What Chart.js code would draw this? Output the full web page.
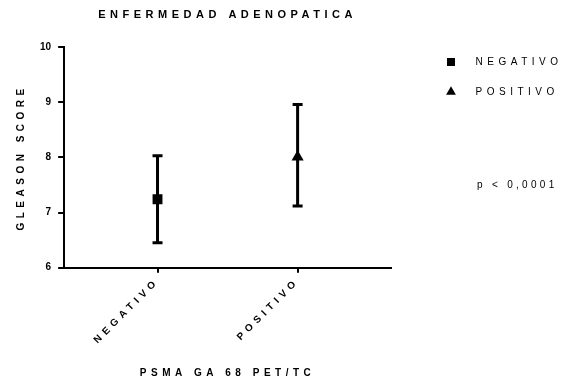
<!DOCTYPE html>
<html>
<head>
<meta charset="utf-8">
<script src="https://cdn.jsdelivr.net/npm/chart.js@4/dist/chart.umd.min.js"></script>
<style>
  html, body { margin: 0; padding: 0; background: #fff; }
</style>
</head>
<body>
<canvas id="chart" width="563" height="381"></canvas>
<script>
// values
const categories = ['NEGATIVO', 'POSITIVO'];
const means = [7.24, 8.01];
const lower = [6.45, 7.12];
const upper = [8.03, 8.96];
const markers = ['rect', 'triangle'];
const yTicks = [6, 7, 8, 9, 10];
const pText = 'p < 0,0001';

Chart.defaults.font.family = '"Liberation Sans", Arial, sans-serif';
Chart.defaults.color = '#000';

// the original uses wide letter spacing on words, none on the numbers
const canvas = document.getElementById('chart');
const ctx = canvas.getContext('2d');
const spaceFor = t => {
  if (t === pText) return '3.3px';
  return /^[\d.]+$/.test(String(t)) ? '0px' : '4.5px';
};
const fill = ctx.fillText;
const measure = ctx.measureText;
ctx.fillText = function (t, ...rest) { this.letterSpacing = spaceFor(t); return fill.call(this, t, ...rest); };
ctx.measureText = function (t) { this.letterSpacing = spaceFor(t); return measure.call(this, t); };

// leave a wider gap between the plot and the legend
const legendGap = 35;
const legendSpacer = {
  id: 'legendSpacer',
  beforeLayout(chart) {
    const lg = chart.legend;
    if (!lg || lg._spaced) return;
    const fit = lg.fit;
    lg.fit = function () { fit.call(this); this.width += legendGap; };
    lg._spaced = true;
  },
  afterLayout(chart) {
    chart.legend.left += legendGap;
  }
};

// error bars (drawn under the markers)
const errorBars = {
  id: 'errorBars',
  beforeDatasetsDraw(chart) {
    const { ctx, scales: { x, y } } = chart;
    ctx.save();
    ctx.strokeStyle = '#000';
    ctx.lineWidth = 3;
    categories.forEach((c, i) => {
      const px = x.getPixelForValue(i);
      const top = y.getPixelForValue(upper[i]);
      const bot = y.getPixelForValue(lower[i]);
      ctx.beginPath();
      ctx.moveTo(px, top); ctx.lineTo(px, bot);
      ctx.moveTo(px - 5, top); ctx.lineTo(px + 5, top);
      ctx.moveTo(px - 5, bot); ctx.lineTo(px + 5, bot);
      ctx.stroke();
    });
    ctx.restore();
  }
};

// p value under the legend
const pValue = {
  id: 'pValue',
  afterDraw(chart) {
    const { ctx, legend } = chart;
    ctx.save();
    ctx.font = '10px "Liberation Sans", Arial, sans-serif';
    ctx.fillStyle = '#000';
    ctx.textBaseline = 'middle';
    ctx.textAlign = 'left';
    ctx.fillText(pText, legend.left + 51, 185);
    ctx.restore();
  }
};

new Chart(ctx, {
  type: 'scatter',
  data: {
    datasets: categories.map((c, i) => ({
      label: c,
      data: [{ x: i, y: means[i] }],
      pointStyle: markers[i],
      pointRadius: 7,
      pointHoverRadius: 7,
      backgroundColor: '#000',
      borderColor: '#000',
      borderWidth: 0
    }))
  },
  options: {
    responsive: false,
    animation: false,
    layout: { padding: { left: 15, right: 0, top: 0, bottom: 2 } },
    plugins: {
      title: {
        display: true,
        fullSize: false,
        text: 'ENFERMEDAD ADENOPATICA',
        font: { size: 11, weight: 'bold' },
        padding: { top: 8, bottom: 26 }
      },
      legend: {
        position: 'right',
        align: 'start',
        title: { display: true, text: '', font: { size: 10 }, padding: { top: 25, bottom: 0 } },
        labels: {
          usePointStyle: true,
          boxHeight: 8,
          padding: 20,
          color: '#000',
          font: { size: 10 },
          generateLabels: chart => Chart.defaults.plugins.legend.labels.generateLabels(chart)
            .map(l => Object.assign(l, { text: '  ' + l.text }))
        }
      },
      tooltip: { enabled: false }
    },
    scales: {
      x: {
        type: 'linear',
        min: -2 / 3,
        max: 5 / 3,
        afterBuildTicks: scale => { scale.ticks = categories.map((c, i) => ({ value: i })); },
        ticks: {
          autoSkip: false,
          minRotation: 45,
          maxRotation: 45,
          font: { size: 10, weight: 'bold' },
          callback: v => categories[v]
        },
        grid: { drawOnChartArea: false, drawTicks: true, tickLength: 5, color: '#000', lineWidth: 2 },
        border: { color: '#000', width: 2 },
        title: {
          display: true,
          text: 'PSMA GA 68 PET/TC',
          font: { size: 10, weight: 'bold' },
          padding: { top: 18, bottom: 0 }
        }
      },
      y: {
        min: 6,
        max: 10,
        afterBuildTicks: scale => { scale.ticks = yTicks.map(v => ({ value: v })); },
        ticks: { font: { size: 10, weight: 'bold' }, padding: 7 },
        grid: { drawOnChartArea: false, drawTicks: true, tickLength: 6, color: '#000', lineWidth: 2 },
        border: { color: '#000', width: 2 },
        title: {
          display: true,
          text: 'GLEASON SCORE',
          font: { size: 10, weight: 'bold' },
          padding: { top: 0, bottom: 6 }
        }
      }
    }
  },
  plugins: [legendSpacer, errorBars, pValue]
});
</script>
</body>
</html>
